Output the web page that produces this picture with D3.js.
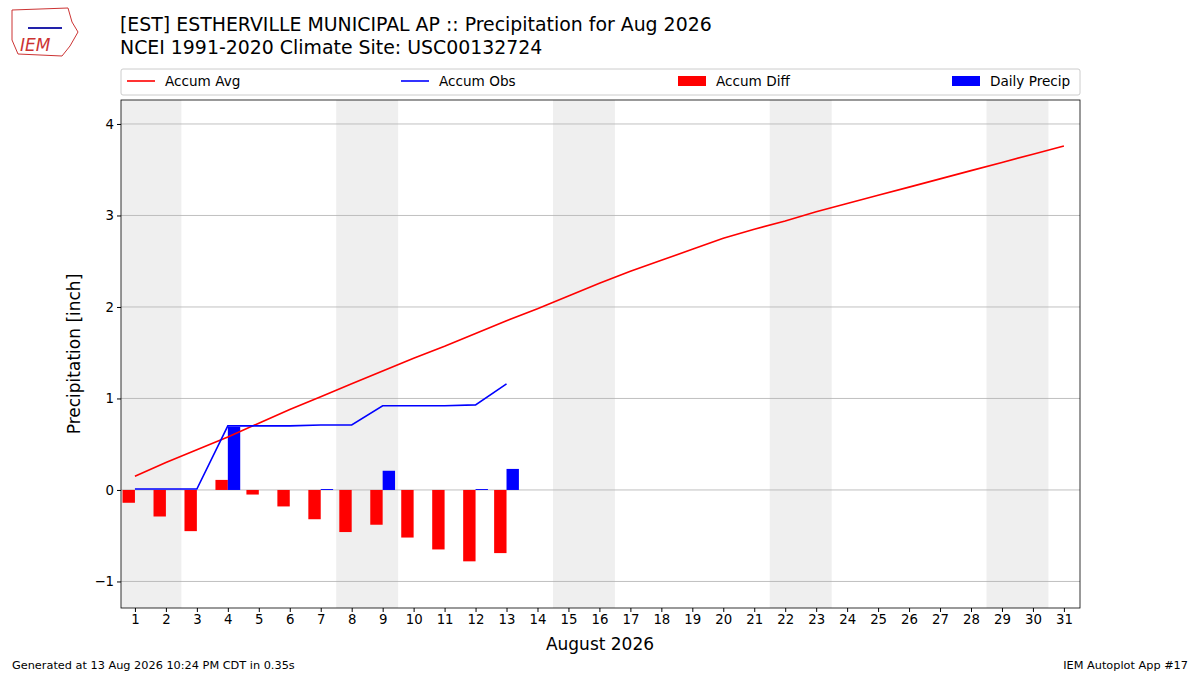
<!DOCTYPE html><html><head><meta charset="utf-8"><script src="https://cdn.jsdelivr.net/npm/d3@7"></script>
<style>body{margin:0;background:#fff}text{font-family:"DejaVu Sans",sans-serif}</style></head><body><svg id="c" width="1200" height="675"></svg>
<script>
const days=d3.range(1,32);
const accumAvg=[0.15,0.30,0.44,0.58,0.73,0.88,1.02,1.16,1.30,1.44,1.57,1.71,1.85,1.98,2.12,2.26,2.39,2.51,2.63,2.75,2.85,2.94,3.04,3.13,3.22,3.31,3.40,3.49,3.58,3.67,3.76];
const accumObs=[0.01,0.01,0.01,0.70,0.70,0.70,0.71,0.71,0.92,0.92,0.92,0.93,1.16];
const dailyPrecip=[0,0,0,0.69,0,0,0.01,0,0.21,0,0,0.01,0.23];
const accumDiff=[-0.14,-0.29,-0.45,0.11,-0.05,-0.18,-0.32,-0.46,-0.38,-0.52,-0.65,-0.78,-0.69];
const weekends=[1,8,15,22,29];
const yTicks=[-1,0,1,2,3,4];
const svg=d3.select("#c");
const L=121,R=1080,T=100,B=608;
const x=d3.scaleLinear().domain([0.55,31.52]).range([L,R]);
const y=d3.scaleLinear().domain([-1.29,4.262]).range([B,T]);
svg.selectAll(".we").data(weekends).join("rect").attr("x",d=>x(Math.max(d-0.5,0.55))).attr("width",d=>x(d+1.5)-x(Math.max(d-0.5,0.55))).attr("y",T).attr("height",B-T).attr("fill","#efefef");
svg.selectAll(".g").data(yTicks).join("line").attr("x1",L).attr("x2",R).attr("y1",d=>y(d)).attr("y2",d=>y(d)).attr("stroke","#b0b0b0").attr("stroke-width",0.8);
const bw=x(1.4)-x(1);
svg.selectAll(".d").data(accumDiff).join("rect").attr("x",(d,i)=>x(i+1)-bw).attr("width",bw).attr("y",d=>y(Math.max(0,d))).attr("height",d=>Math.abs(y(d)-y(0))).attr("fill","red");
svg.selectAll(".p").data(dailyPrecip).join("rect").attr("x",(d,i)=>x(i+1)).attr("width",bw).attr("y",d=>y(d)).attr("height",d=>y(0)-y(d)).attr("fill","blue");
const ln=d3.line().x((d,i)=>x(i+1)).y(d=>y(d));
svg.append("path").attr("d",ln(accumAvg)).attr("fill","none").attr("stroke","red").attr("stroke-width",1.6);
svg.append("path").attr("d",ln(accumObs)).attr("fill","none").attr("stroke","blue").attr("stroke-width",1.6);
svg.append("rect").attr("x",L).attr("y",T).attr("width",R-L).attr("height",B-T).attr("fill","none").attr("stroke","#000").attr("stroke-width",0.8);
const xa=svg.append("g").attr("transform",`translate(0,${B})`).call(d3.axisBottom(x).tickValues(days).tickFormat(d3.format("d")).tickSize(4).tickSizeOuter(0));
const ya=svg.append("g").attr("transform",`translate(${L},0)`).call(d3.axisLeft(y).tickValues(yTicks).tickFormat(d=>d<0?"\u2212"+(-d):d).tickSize(4).tickSizeOuter(0));
[xa,ya].forEach(a=>{a.select(".domain").remove();a.selectAll("text").attr("font-size",13.3).attr("fill","#000");});
svg.append("text").attr("x",600).attr("y",650).attr("text-anchor","middle").attr("font-size",17).text("August 2026");
svg.append("text").attr("transform","translate(80,354) rotate(-90)").attr("text-anchor","middle").attr("font-size",17).text("Precipitation [inch]");
svg.append("text").attr("x",120).attr("y",31).attr("font-size",18.9).text("[EST] ESTHERVILLE MUNICIPAL AP :: Precipitation for Aug 2026");
svg.append("text").attr("x",120).attr("y",54).attr("font-size",18.9).text("NCEI 1991-2020 Climate Site: USC00132724");
svg.append("rect").attr("x",121).attr("y",69).attr("width",959).attr("height",26).attr("fill","#fff").attr("stroke","#ccc").attr("rx",2);
const leg=[{t:"Accum Avg",c:"red",k:"l",x:127},{t:"Accum Obs",c:"blue",k:"l",x:401},{t:"Accum Diff",c:"red",k:"r",x:678},{t:"Daily Precip",c:"blue",k:"r",x:952}];
leg.forEach(e=>{if(e.k=="l")svg.append("line").attr("x1",e.x).attr("x2",e.x+28).attr("y1",81).attr("y2",81).attr("stroke",e.c).attr("stroke-width",1.6);
else svg.append("rect").attr("x",e.x).attr("y",76).attr("width",28).attr("height",10).attr("fill",e.c);
svg.append("text").attr("x",e.x+38).attr("y",86).attr("font-size",13.6).text(e.t);});
svg.append("text").attr("x",12).attr("y",669).attr("font-size",11.3).text("Generated at 13 Aug 2026 10:24 PM CDT in 0.35s");
svg.append("text").attr("x",1188).attr("y",669).attr("text-anchor","end").attr("font-size",11.3).text("IEM Autoplot App #17");
svg.append("path").attr("d","M12,10 L68,8 L72,22 L78,32 L70,46 L62,56 L18,54 L12,40 Z").attr("fill","#fff").attr("stroke","#c33");
svg.append("line").attr("x1",28).attr("x2",62).attr("y1",28).attr("y2",28).attr("stroke","#22a").attr("stroke-width",2);
svg.append("text").attr("x",20).attr("y",51).attr("font-size",17).attr("font-style","italic").attr("font-family","Liberation Serif").attr("fill","#c33").text("IEM");
</script></body></html>
